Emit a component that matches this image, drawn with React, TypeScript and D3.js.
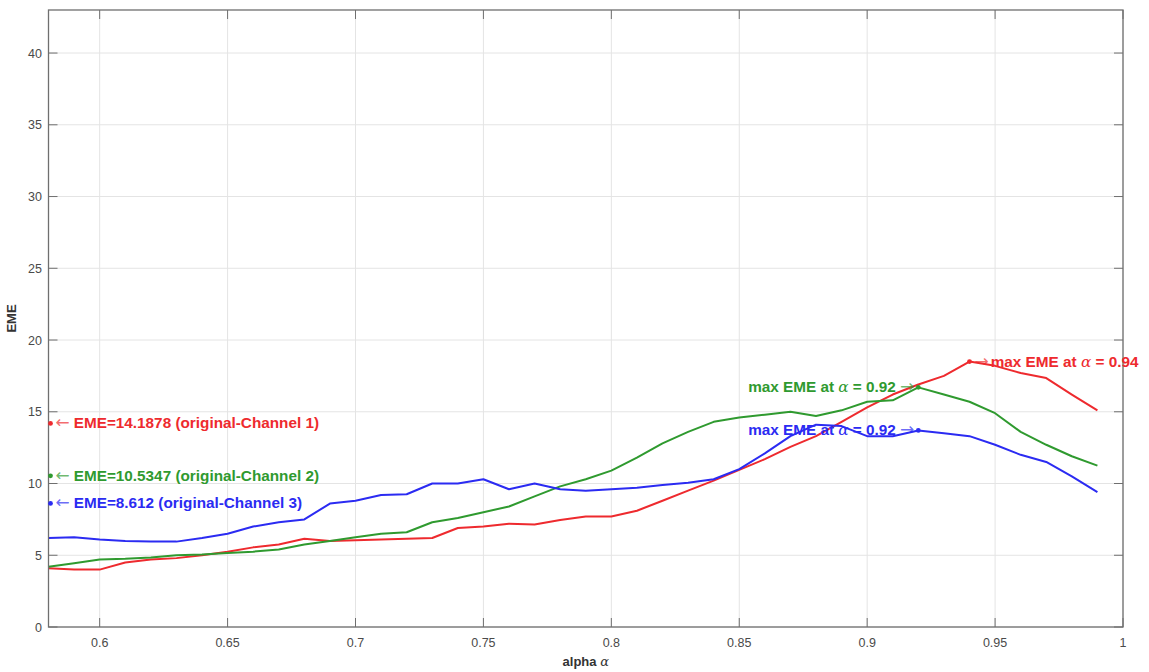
import React from "react";
import * as d3 from "d3";

const alpha = [0.58,0.59,0.6,0.61,0.62,0.63,0.64,0.65,0.66,0.67,0.68,0.69,0.7,0.71,0.72,0.73,0.74,0.75,0.76,0.77,0.78,0.79,0.8,0.81,0.82,0.83,0.84,0.85,0.86,0.87,0.88,0.89,0.9,0.91,0.92,0.93,0.94,0.95,0.96,0.97,0.98,0.99];
const channel1 = [4.1,4.0,4.0,4.5,4.7,4.8,5.0,5.25,5.55,5.75,6.15,6.0,6.05,6.1,6.15,6.2,6.9,7.0,7.2,7.15,7.45,7.7,7.7,8.1,8.8,9.5,10.2,10.95,11.7,12.55,13.3,14.3,15.3,16.2,16.9,17.5,18.5,18.2,17.7,17.35,16.2,15.1];
const channel2 = [4.2,4.45,4.7,4.75,4.85,5.0,5.05,5.15,5.25,5.4,5.75,6.0,6.25,6.5,6.6,7.3,7.6,8.0,8.4,9.1,9.8,10.3,10.9,11.8,12.8,13.6,14.3,14.6,14.8,15.0,14.7,15.1,15.7,15.8,16.7,16.2,15.7,14.9,13.6,12.7,11.9,11.25];
const channel3 = [6.2,6.25,6.1,6.0,5.95,5.95,6.2,6.5,7.0,7.3,7.5,8.6,8.8,9.2,9.25,10.0,10.0,10.3,9.6,10.0,9.6,9.5,9.6,9.7,9.9,10.05,10.3,11.0,12.1,13.3,14.1,14.0,13.3,13.3,13.7,13.5,13.3,12.7,12.0,11.5,10.5,9.4];

const originalEME = [14.1878, 10.5347, 8.612];
const channelNames = ["original-Channel 1", "original-Channel 2", "original-Channel 3"];
const maxAlpha = [0.94, 0.92, 0.92];
const xTicks = [0.6,0.65,0.7,0.75,0.8,0.85,0.9,0.95,1];
const yTicks = [0,5,10,15,20,25,30,35,40];

const colors = ["#ee2a2e", "#2f9a2f", "#2b2bf2"];

export default function App() {
  const W = 1149, H = 672;
  const left = 48.5, right = 1123, top = 10, bottom = 627;
  const x = d3.scaleLinear().domain([0.58, 1.0]).range([left, right]);
  const y = d3.scaleLinear().domain([0, 43]).range([bottom, top]);
  const series = [channel1, channel2, channel3];
  const line = d3.line<number>().x((_, i) => x(alpha[i])).y(d => y(d));
  const axisColor = "#6f6f6f";
  const textColor = "#4a4a4a";
  const font = "'Liberation Sans', Arial, Helvetica, sans-serif";
  const arrowFont = "'DejaVu Sans', sans-serif";
  const annSize = 15.3;
  const arrowSize = 17;

  return (
    <svg width={W} height={H} style={{ position: "absolute", left: 0, top: 0, background: "#fff" }} fontFamily={font}>
      <rect x={0} y={0} width={W} height={H} fill="#fff" />
      {xTicks.map(t => (
        <line key={"gx" + t} x1={x(t)} x2={x(t)} y1={top} y2={bottom} stroke="#e4e4e4" strokeWidth={1} />
      ))}
      {yTicks.map(t => (
        <line key={"gy" + t} x1={left} x2={right} y1={y(t)} y2={y(t)} stroke="#e4e4e4" strokeWidth={1} />
      ))}
      {series.map((s, k) => (
        <path key={"l" + k} d={line(s) || ""} fill="none" stroke={colors[k]} strokeWidth={2} strokeLinejoin="round" />
      ))}
      <rect x={left} y={top} width={right - left} height={bottom - top} fill="none" stroke={axisColor} strokeWidth={1.3} />
      {xTicks.map(t => (
        <g key={"tx" + t}>
          <line x1={x(t)} x2={x(t)} y1={bottom} y2={bottom - 9} stroke={axisColor} strokeWidth={1} />
          <line x1={x(t)} x2={x(t)} y1={top} y2={top + 9} stroke={axisColor} strokeWidth={1} />
          <text x={x(t)} y={647} textAnchor="middle" fontSize={12.5} fill={textColor}>{String(t)}</text>
        </g>
      ))}
      {yTicks.map(t => (
        <g key={"ty" + t}>
          <line x1={left} x2={left + 9} y1={y(t)} y2={y(t)} stroke={axisColor} strokeWidth={1} />
          <line x1={right} x2={right - 9} y1={y(t)} y2={y(t)} stroke={axisColor} strokeWidth={1} />
          <text x={42} y={y(t) + 4.5} textAnchor="end" fontSize={12.5} fill={textColor}>{String(t)}</text>
        </g>
      ))}
      <text x={(left + right) / 2} y={666} textAnchor="middle" fontSize={13} fontWeight="bold" fill="#333">
        alpha <tspan fontFamily="'DejaVu Serif', serif" fontStyle="italic" fontWeight="normal">α</tspan>
      </text>
      <text transform={`translate(16,${(top + bottom) / 2}) rotate(-90)`} textAnchor="middle" fontSize={13} fontWeight="bold" fill="#333">EME</text>
      {originalEME.map((v, k) => (
        <g key={"o" + k}>
          <circle cx={x(0.58) + 2} cy={y(v)} r={2.4} fill={colors[k]} />
          <text x={x(0.58) + 7} y={y(v) + 5} fontSize={annSize} fontWeight="bold" fill={colors[k]}>
            <tspan fontFamily={arrowFont} fontWeight="normal" fontSize={arrowSize} fillOpacity={0.7}>←</tspan><tspan dx={4}>EME={String(v)} ({channelNames[k]})</tspan>
          </text>
        </g>
      ))}
      {maxAlpha.map((a, k) => {
        const idx = alpha.findIndex(v => Math.abs(v - a) < 1e-9);
        const v = series[k][idx];
        const px = x(a), py = y(v);
        return (
          <g key={"m" + k}>
            <circle cx={px} cy={py} r={2.4} fill={colors[k]} />
            {k === 0 ? (
              <text x={px + 5} y={py + 5} fontSize={annSize} fontWeight="bold" fill={colors[k]}>
                <tspan fontFamily={arrowFont} fontWeight="normal" fontSize={arrowSize} fillOpacity={0.7}>→</tspan><tspan dx={2}>max EME at </tspan><tspan fontFamily="'DejaVu Serif', serif" fontStyle="italic" fontWeight="normal">α</tspan> = {String(a)}
              </text>
            ) : (
              <text x={px - 4} y={py + 5} textAnchor="end" fontSize={annSize} fontWeight="bold" fill={colors[k]}>
                max EME at <tspan fontFamily="'DejaVu Serif', serif" fontStyle="italic" fontWeight="normal">α</tspan> = {String(a)} <tspan fontFamily={arrowFont} fontWeight="normal" fontSize={arrowSize} fillOpacity={0.7}>→</tspan>
              </text>
            )}
          </g>
        );
      })}
    </svg>
  );
}
